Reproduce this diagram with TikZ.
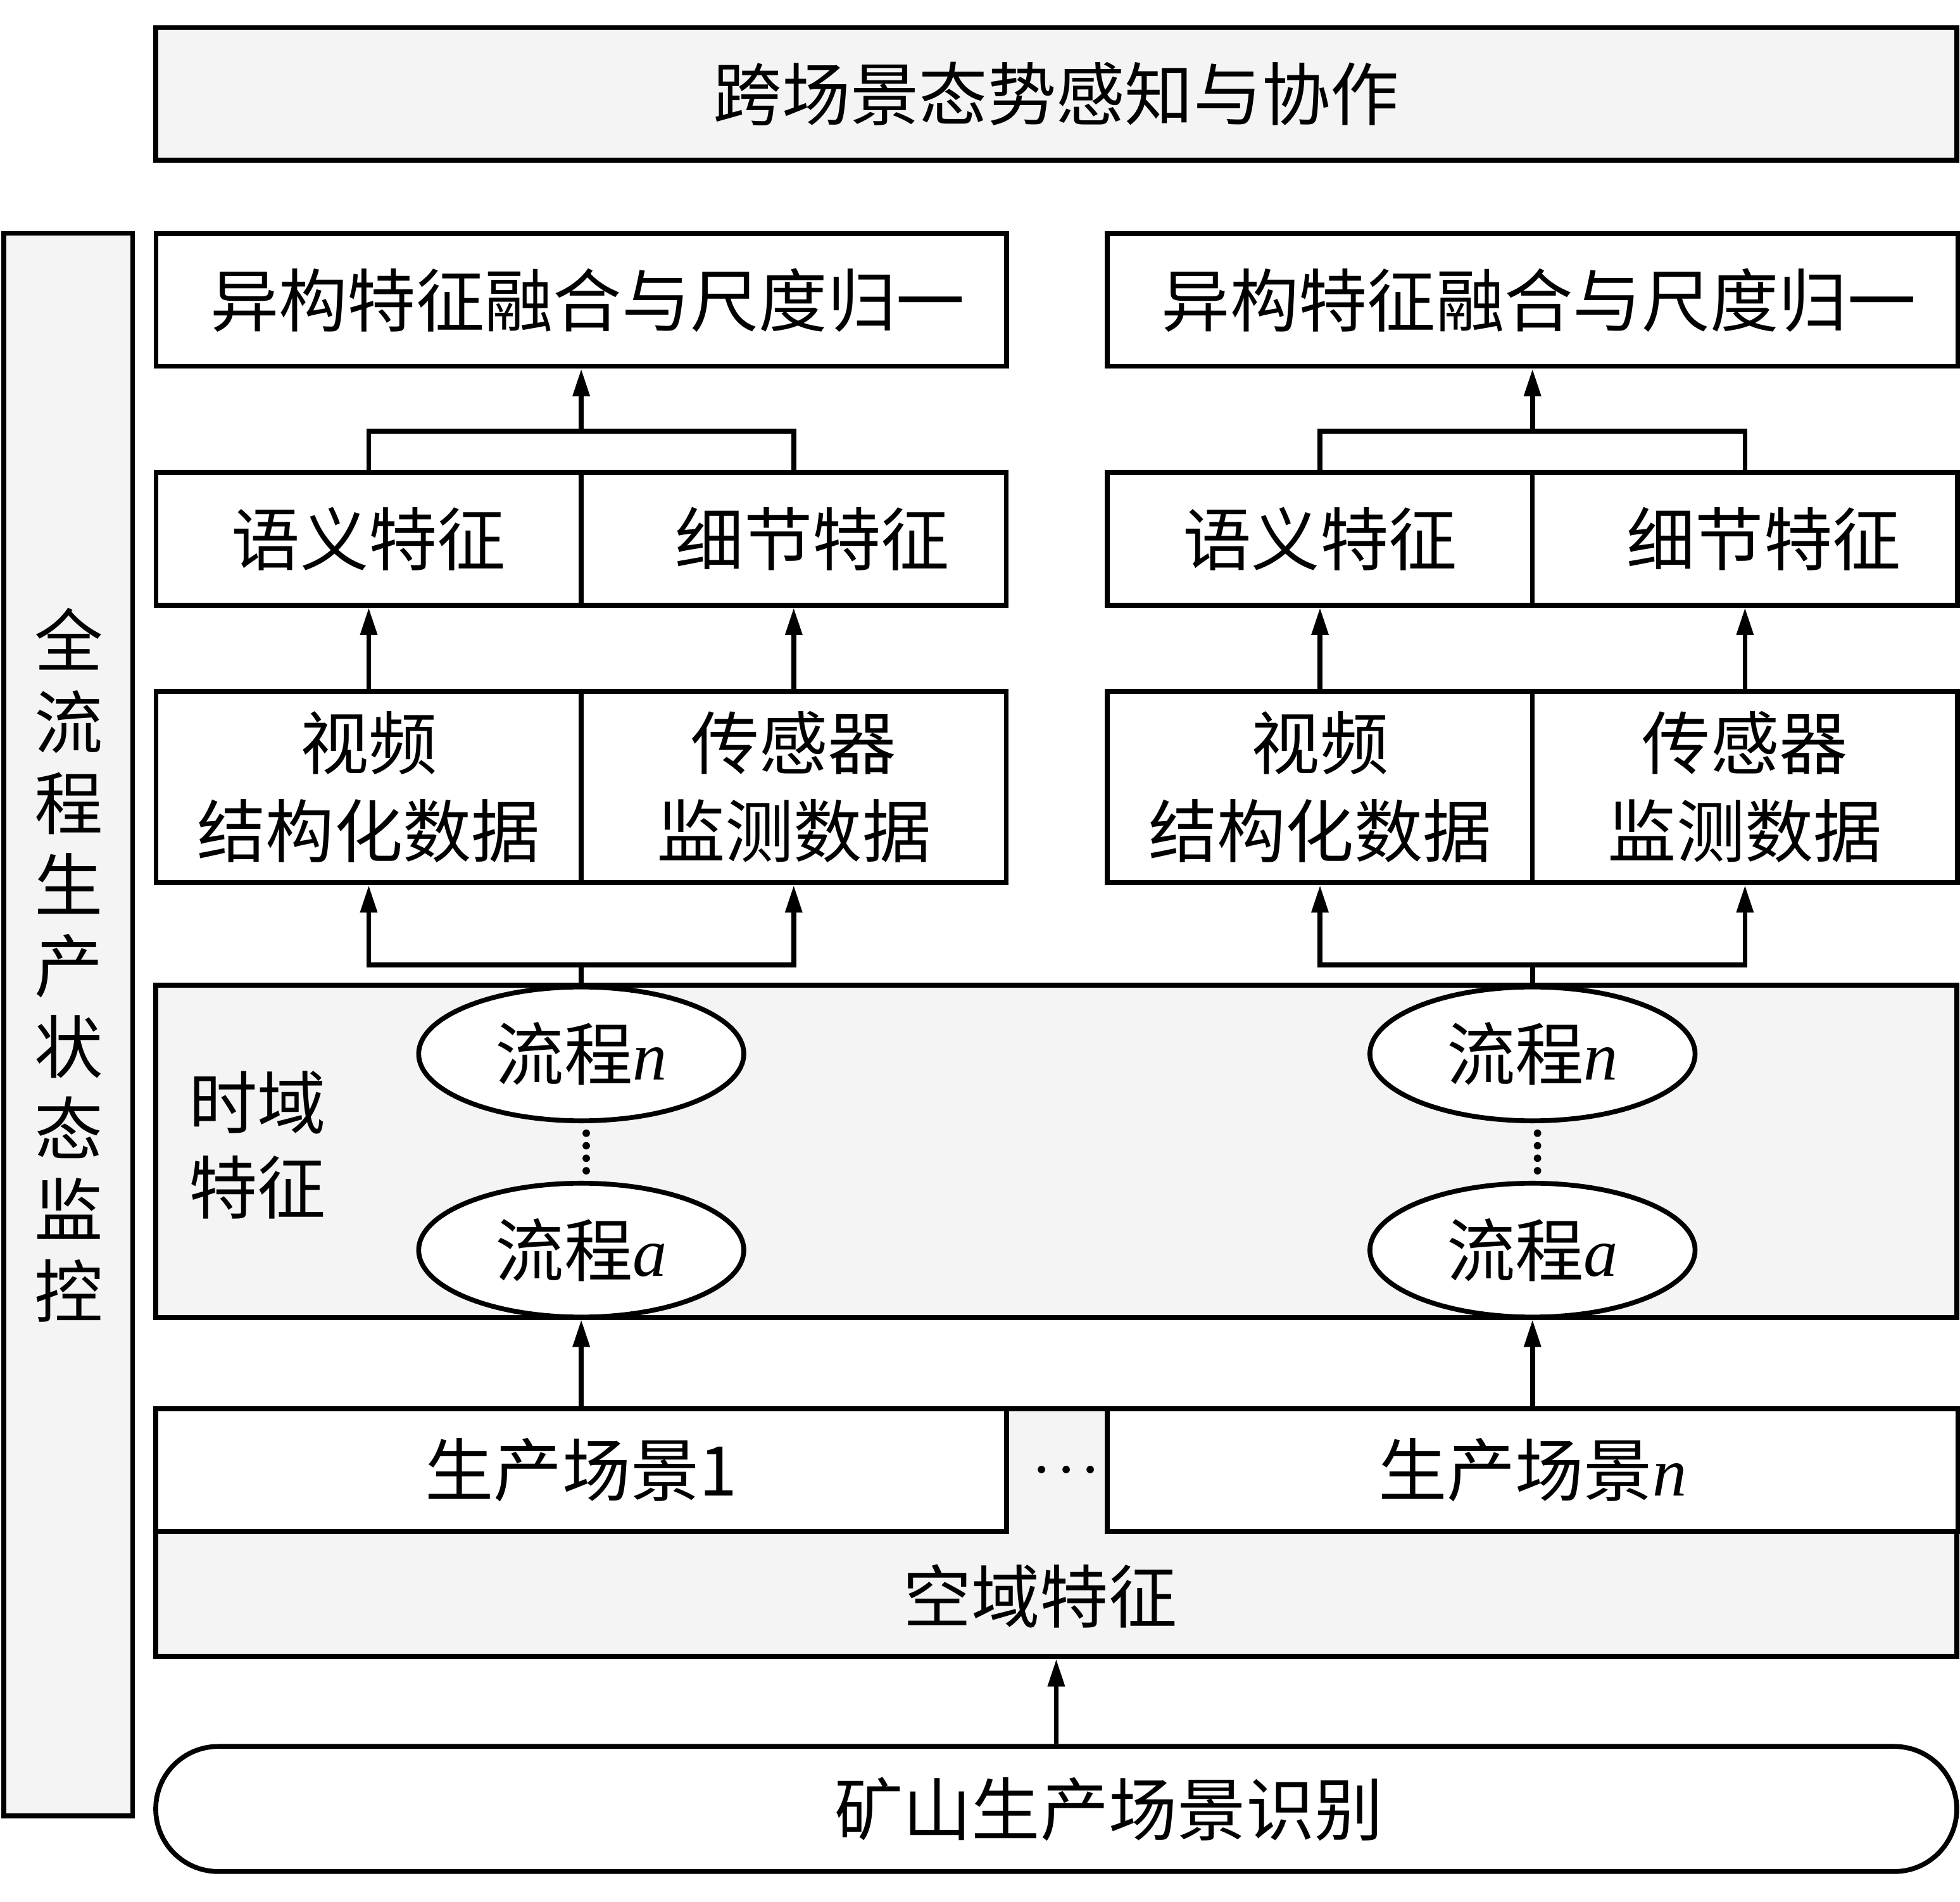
\documentclass[tikz,border=0pt]{standalone}
\usepackage{fontspec}
\setmainfont{Liberation Serif}
\newfontfamily\cjk{Noto Sans CJK SC}
\usetikzlibrary{arrows.meta}
\usetikzlibrary{shapes.geometric}
\definecolor{panel}{HTML}{F4F4F4}

\begin{document}
\begin{tikzpicture}[x=0.01cm,y=-0.01cm,
    every node/.style={font=\cjk\fontsize{15.6pt}{19.9pt}\selectfont},
    box/.style={draw,line width=1.1pt,fill=white,inner sep=0pt},
    gbox/.style={box,fill=panel},
    proc/.style={box,ellipse,minimum width=2.6cm,minimum height=1.07cm},
    arr/.style={line width=1.1pt,-{Triangle[length=0.22cm,width=0.13cm]}},
    wire/.style={line width=1.1pt}]
    \useasboundingbox (0,0) rectangle (1568,1521);
    % top and side bars
    \node[gbox,minimum width=14.4cm,minimum height=1.06cm] (cross) at (845,75) {跨场景态势感知与协作};
    \node[gbox,minimum width=1.03cm,minimum height=12.65cm] (monitor) at (54.5,819.5) {};
    \node[align=center,font=\cjk\fontsize{15.6pt}{18.5pt}\selectfont] (monitortext) at (55,772)
      {全\\流\\程\\生\\产\\状\\态\\监\\控};
    % time and space panels
    \node[gbox,minimum width=14.4cm,minimum height=2.66cm] (time) at (845,921) {};
    \node[align=center,font=\cjk\fontsize{15.6pt}{19.3pt}\selectfont] (timelab) at (206,916) {时域\\特征};
    \node[gbox,minimum width=14.4cm,minimum height=1.98cm] (space) at (845,1226) {};
    \node (spacetext) at (832,1277) {空域特征};
    \node[font=\fontsize{11pt}{12pt}\selectfont\boldmath] (gap) at (853,1176) {$\cdots$};
    \foreach \c/\i/\s in {465/1/1,1226/2/{\rmfamily\itshape n}}{
      \node[box,minimum width=6.8cm,minimum height=1.06cm] (fuse\i) at (\c,240) {\hspace*{0.1cm}异构特征融合与尺度归一};
      \node[box,minimum width=3.4cm,minimum height=1.06cm] (sem\i) at (\c-170,431) {语义特征};
      \node[box,minimum width=3.4cm,minimum height=1.06cm] (det\i) at (\c+170,431) {\hspace*{0.3cm}细节特征};
      \node[box,minimum width=3.4cm,minimum height=1.53cm,align=center] (vid\i) at (\c-170,629.5) {视频\\结构化数据};
      \node[box,minimum width=3.4cm,minimum height=1.53cm,align=center] (sen\i) at (\c+170,629.5) {传感器\\监测数据};
      \node[proc] (pn\i) at (\c,843) {流程{\rmfamily\itshape n}};
      \node[proc] (pa\i) at (\c,1000) {流程{\rmfamily\itshape a}};
      \node[box,minimum width=6.8cm,minimum height=0.98cm] (scene\i) at (\c,1176) {生产场景\s};
      \coordinate (top\i) at (\c,345);
      \coordinate (bot\i) at (\c,772);
      \draw[wire] (sem\i.north) |- (top\i) -| (det\i.north);
      \draw[arr] (top\i) -- (fuse\i.south);
      \draw[arr] (vid\i.north) -- (sem\i.south);
      \draw[arr] (sen\i.north) -- (det\i.south);
      \draw[arr] (bot\i) -| (vid\i.south);
      \draw[arr] (bot\i) -| (sen\i.south);
      \draw[wire] (bot\i) -- (pn\i.north);
      \draw[line width=1.7pt,line cap=round,dash pattern=on 0pt off 0.1cm,shorten <=0.08cm,shorten >=0.08cm]
        ([xshift=0.04cm]pn\i.south) -- ([xshift=0.04cm]pa\i.north);
      \draw[arr] (scene\i.north) -- (pa\i.south);
    }
    % recognition
    \node[box,rounded corners=0.5cm,minimum width=14.4cm,minimum height=1.0cm] (recog) at (845,1447) {\hspace*{0.84cm}矿山生产场景识别};
    \draw[arr] (recog.north) -- (space.south);
\end{tikzpicture}
\end{document}
